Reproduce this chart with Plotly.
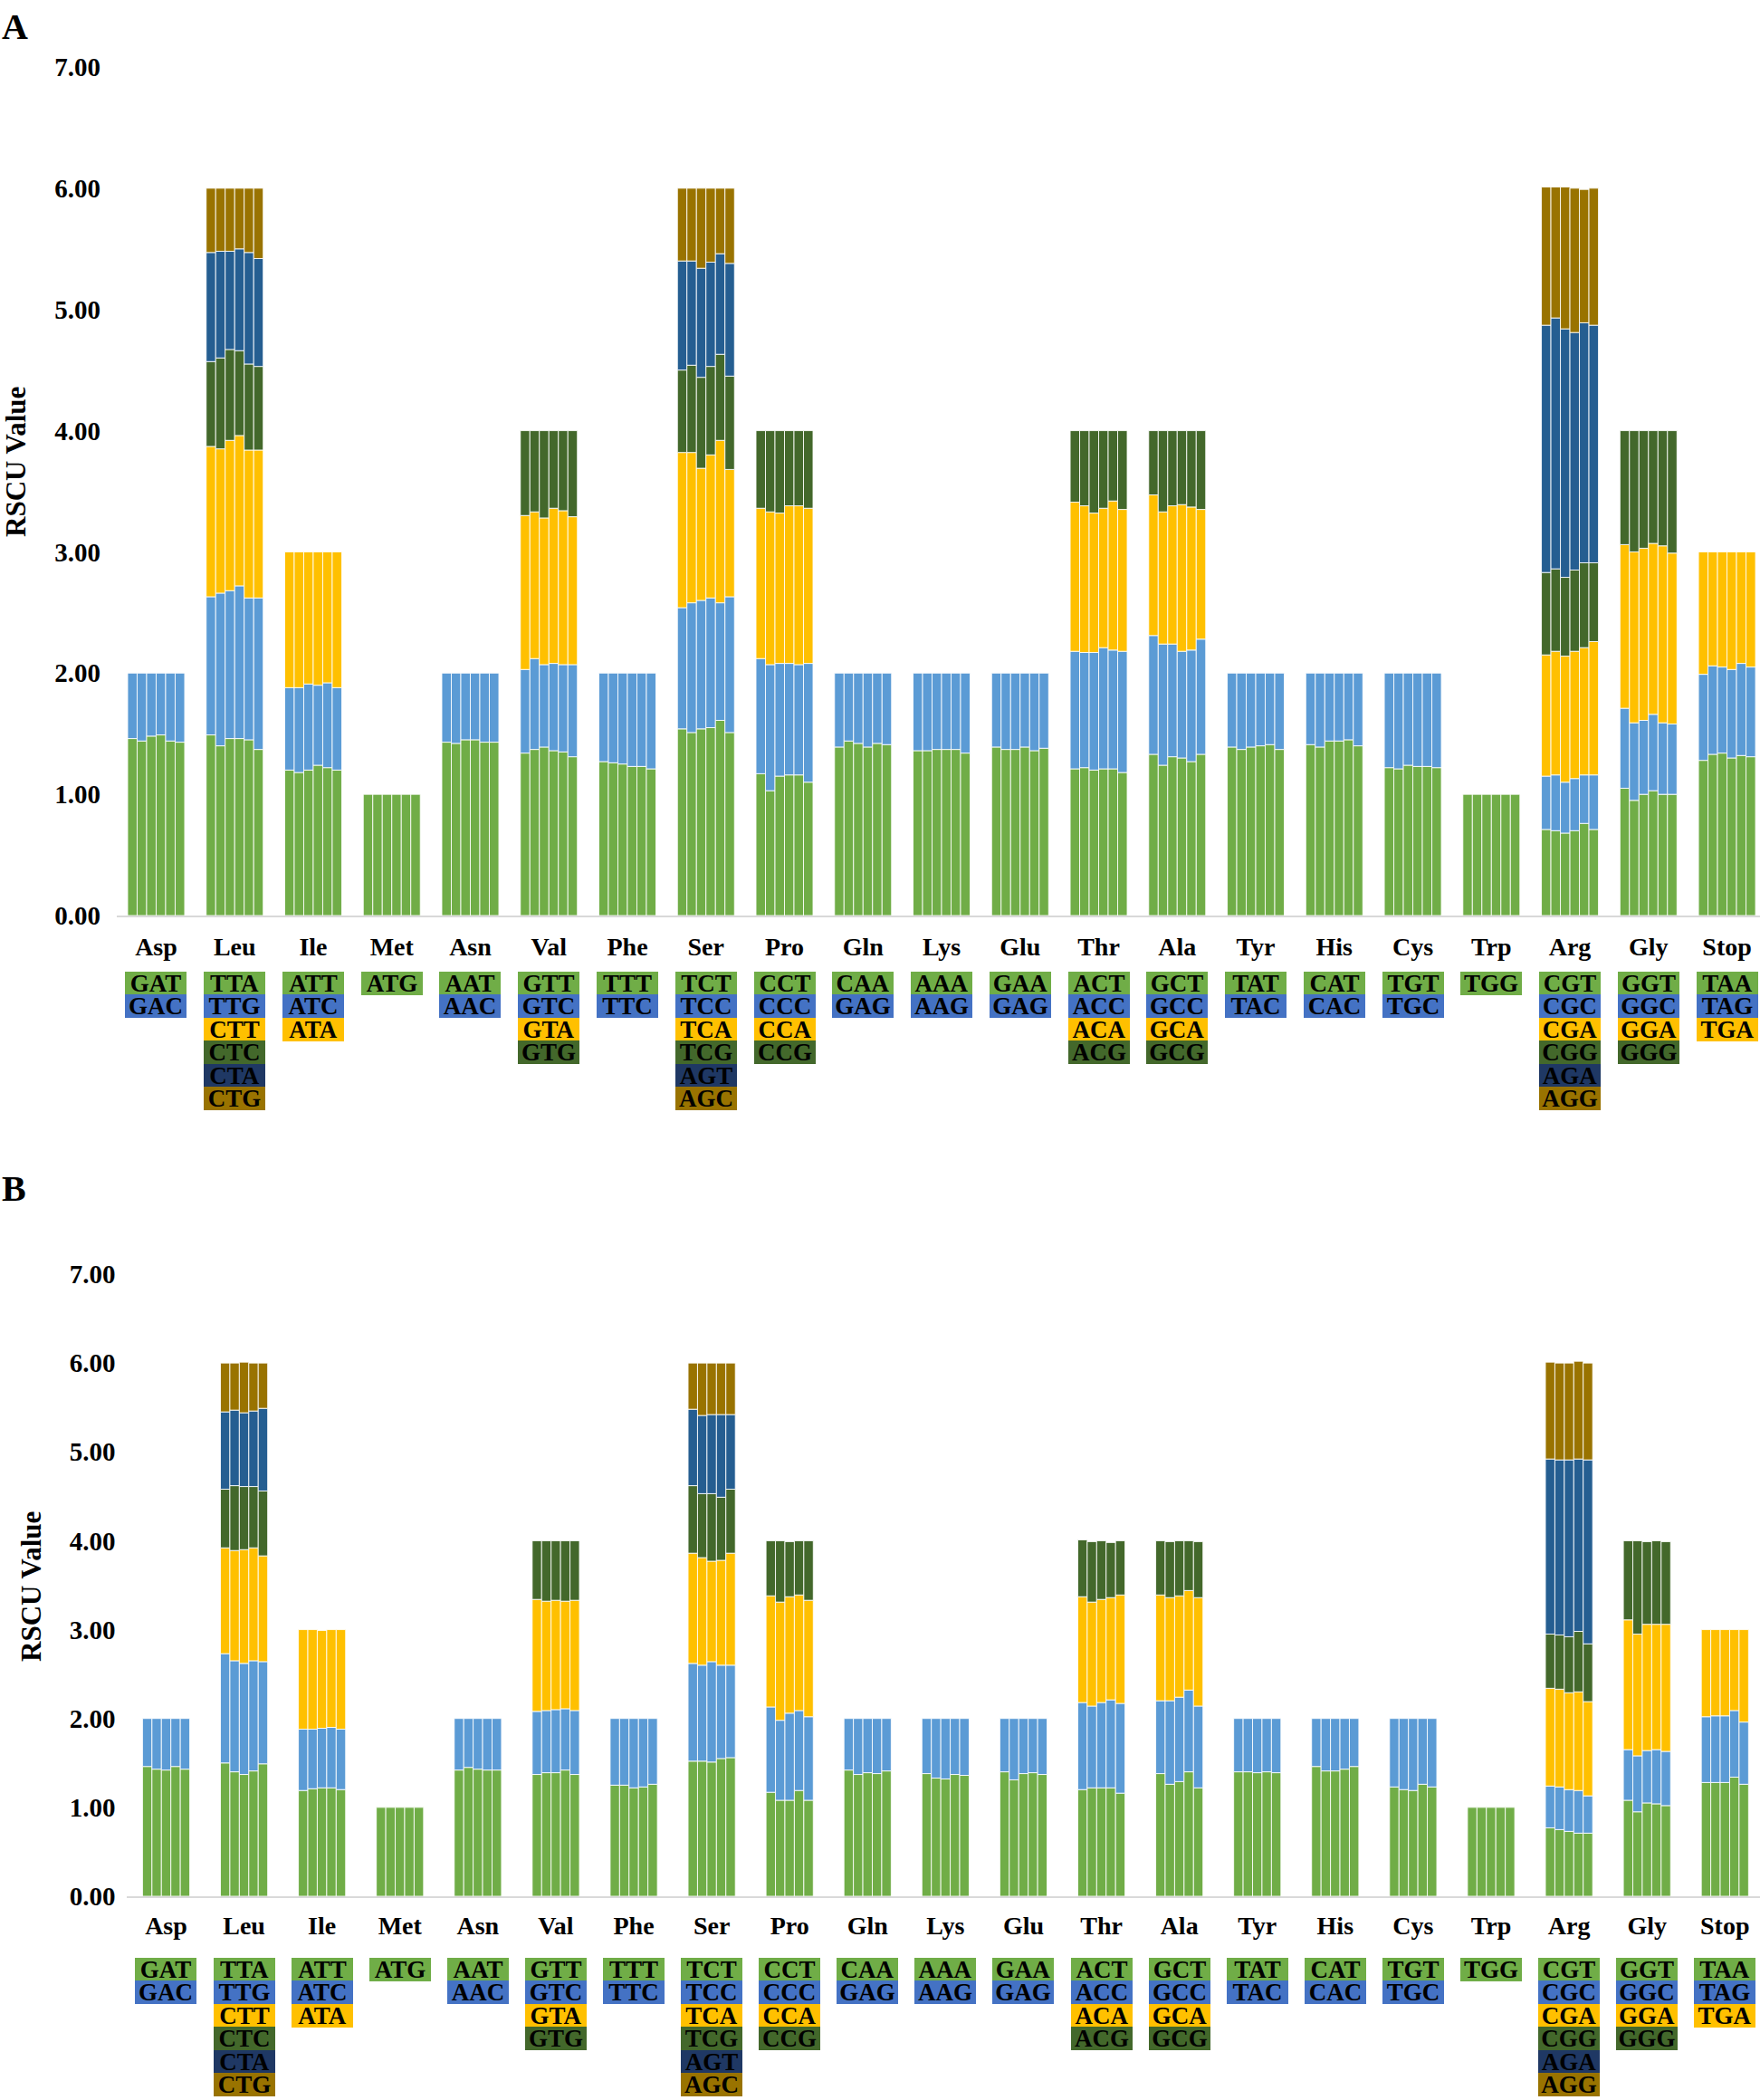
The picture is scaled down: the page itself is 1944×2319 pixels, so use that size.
import plotly.graph_objects as go

# ---------------- categories ----------------
amino_acids = ["Asp", "Leu", "Ile", "Met", "Asn", "Val", "Phe", "Ser", "Pro", "Gln", "Lys",
               "Glu", "Thr", "Ala", "Tyr", "His", "Cys", "Trp", "Arg", "Gly", "Stop"]

codons_Asp = ["GAT", "GAC"]
codons_Leu = ["TTA", "TTG", "CTT", "CTC", "CTA", "CTG"]
codons_Ile = ["ATT", "ATC", "ATA"]
codons_Met = ["ATG"]
codons_Asn = ["AAT", "AAC"]
codons_Val = ["GTT", "GTC", "GTA", "GTG"]
codons_Phe = ["TTT", "TTC"]
codons_Ser = ["TCT", "TCC", "TCA", "TCG", "AGT", "AGC"]
codons_Pro = ["CCT", "CCC", "CCA", "CCG"]
codons_Gln = ["CAA", "GAG"]
codons_Lys = ["AAA", "AAG"]
codons_Glu = ["GAA", "GAG"]
codons_Thr = ["ACT", "ACC", "ACA", "ACG"]
codons_Ala = ["GCT", "GCC", "GCA", "GCG"]
codons_Tyr = ["TAT", "TAC"]
codons_His = ["CAT", "CAC"]
codons_Cys = ["TGT", "TGC"]
codons_Trp = ["TGG"]
codons_Arg = ["CGT", "CGC", "CGA", "CGG", "AGA", "AGG"]
codons_Gly = ["GGT", "GGC", "GGA", "GGG"]
codons_Stop = ["TAA", "TAG", "TGA"]

y_ticks = [0, 1, 2, 3, 4, 5, 6, 7]

# ---------------- panel A: RSCU per codon (rows) x 6 samples ----------------
A_Asp = [[1.46, 1.44, 1.48, 1.49, 1.44, 1.43], [0.54, 0.56, 0.52, 0.51, 0.56, 0.57]]
A_Leu = [[1.49, 1.40, 1.46, 1.46, 1.45, 1.37], [1.14, 1.26, 1.22, 1.26, 1.17, 1.25],
         [1.24, 1.19, 1.24, 1.24, 1.22, 1.22], [0.70, 0.75, 0.75, 0.70, 0.71, 0.69],
         [0.90, 0.88, 0.81, 0.84, 0.92, 0.89], [0.53, 0.52, 0.52, 0.50, 0.53, 0.58]]
A_Ile = [[1.20, 1.18, 1.20, 1.24, 1.22, 1.20], [0.68, 0.70, 0.71, 0.66, 0.70, 0.68],
         [1.12, 1.12, 1.09, 1.10, 1.08, 1.12]]
A_Met = [[1.00, 1.00, 1.00, 1.00, 1.00, 1.00]]
A_Asn = [[1.43, 1.42, 1.45, 1.45, 1.43, 1.43], [0.57, 0.58, 0.55, 0.55, 0.57, 0.57]]
A_Val = [[1.34, 1.37, 1.39, 1.36, 1.35, 1.31], [0.69, 0.75, 0.68, 0.72, 0.72, 0.76],
         [1.27, 1.21, 1.21, 1.28, 1.27, 1.22], [0.70, 0.67, 0.72, 0.64, 0.66, 0.71]]
A_Phe = [[1.27, 1.26, 1.25, 1.23, 1.23, 1.21], [0.73, 0.74, 0.75, 0.77, 0.77, 0.79]]
A_Ser = [[1.54, 1.51, 1.54, 1.55, 1.61, 1.51], [1.00, 1.07, 1.06, 1.07, 0.97, 1.12],
         [1.28, 1.24, 1.09, 1.18, 1.34, 1.05], [0.68, 0.72, 0.75, 0.73, 0.71, 0.77],
         [0.90, 0.86, 0.90, 0.86, 0.83, 0.93], [0.60, 0.60, 0.66, 0.61, 0.54, 0.62]]
A_Pro = [[1.17, 1.03, 1.15, 1.16, 1.16, 1.10], [0.95, 1.04, 0.93, 0.92, 0.91, 0.98],
         [1.24, 1.26, 1.24, 1.30, 1.31, 1.28], [0.64, 0.67, 0.68, 0.62, 0.62, 0.64]]
A_Gln = [[1.39, 1.44, 1.42, 1.39, 1.42, 1.41], [0.61, 0.56, 0.58, 0.61, 0.58, 0.59]]
A_Lys = [[1.36, 1.36, 1.37, 1.37, 1.37, 1.34], [0.64, 0.64, 0.63, 0.63, 0.63, 0.66]]
A_Glu = [[1.39, 1.37, 1.37, 1.39, 1.36, 1.38], [0.61, 0.63, 0.63, 0.61, 0.64, 0.62]]
A_Thr = [[1.21, 1.22, 1.20, 1.21, 1.21, 1.18], [0.97, 0.95, 0.97, 1.00, 0.98, 1.00],
         [1.23, 1.21, 1.15, 1.15, 1.23, 1.17], [0.59, 0.62, 0.68, 0.64, 0.58, 0.65]]
A_Ala = [[1.33, 1.24, 1.31, 1.30, 1.27, 1.33], [0.98, 1.00, 0.93, 0.88, 0.92, 0.95],
         [1.16, 1.09, 1.14, 1.21, 1.18, 1.07], [0.53, 0.67, 0.62, 0.61, 0.63, 0.65]]
A_Tyr = [[1.39, 1.37, 1.39, 1.40, 1.41, 1.37], [0.61, 0.63, 0.61, 0.60, 0.59, 0.63]]
A_His = [[1.41, 1.39, 1.44, 1.44, 1.45, 1.40], [0.59, 0.61, 0.56, 0.56, 0.55, 0.60]]
A_Cys = [[1.22, 1.21, 1.24, 1.23, 1.23, 1.22], [0.78, 0.79, 0.76, 0.77, 0.77, 0.78]]
A_Trp = [[1.00, 1.00, 1.00, 1.00, 1.00, 1.00]]
A_Arg = [[0.71, 0.70, 0.68, 0.70, 0.76, 0.71], [0.44, 0.46, 0.42, 0.43, 0.40, 0.45],
         [1.00, 1.02, 1.04, 1.05, 1.05, 1.10], [0.68, 0.68, 0.65, 0.67, 0.70, 0.65],
         [2.04, 2.07, 2.05, 1.96, 1.98, 1.96], [1.14, 1.08, 1.17, 1.19, 1.10, 1.13]]
A_Gly = [[1.05, 0.95, 1.00, 1.03, 1.00, 1.00], [0.66, 0.64, 0.61, 0.63, 0.59, 0.58],
         [1.35, 1.41, 1.42, 1.41, 1.46, 1.41], [0.94, 1.00, 0.97, 0.93, 0.95, 1.01]]
A_Stop = [[1.28, 1.33, 1.34, 1.30, 1.32, 1.31], [0.71, 0.73, 0.71, 0.73, 0.76, 0.74],
          [1.01, 0.94, 0.95, 0.97, 0.92, 0.95]]

# ---------------- panel B: RSCU per codon (rows) x 5 samples ----------------
B_Asp = [[1.46, 1.43, 1.42, 1.46, 1.43], [0.54, 0.57, 0.58, 0.54, 0.57]]
B_Leu = [[1.50, 1.40, 1.37, 1.41, 1.49], [1.23, 1.25, 1.25, 1.24, 1.15],
         [1.19, 1.24, 1.28, 1.27, 1.19], [0.66, 0.73, 0.71, 0.69, 0.73],
         [0.87, 0.85, 0.83, 0.85, 0.93], [0.55, 0.53, 0.57, 0.54, 0.51]]
B_Ile = [[1.19, 1.21, 1.22, 1.22, 1.20], [0.69, 0.67, 0.67, 0.68, 0.68],
         [1.12, 1.12, 1.10, 1.10, 1.12]]
B_Met = [[1.00, 1.00, 1.00, 1.00, 1.00]]
B_Asn = [[1.42, 1.45, 1.43, 1.42, 1.42], [0.58, 0.55, 0.57, 0.58, 0.58]]
B_Val = [[1.37, 1.39, 1.39, 1.42, 1.37], [0.71, 0.70, 0.71, 0.69, 0.72],
         [1.26, 1.23, 1.23, 1.21, 1.24], [0.66, 0.68, 0.67, 0.68, 0.67]]
B_Phe = [[1.25, 1.25, 1.22, 1.23, 1.26], [0.75, 0.75, 0.78, 0.77, 0.74]]
B_Ser = [[1.52, 1.52, 1.51, 1.55, 1.56], [1.10, 1.08, 1.13, 1.05, 1.04],
         [1.24, 1.21, 1.13, 1.18, 1.26], [0.76, 0.72, 0.76, 0.71, 0.72],
         [0.86, 0.88, 0.89, 0.93, 0.84], [0.52, 0.59, 0.58, 0.58, 0.58]]
B_Pro = [[1.17, 1.08, 1.08, 1.19, 1.08], [0.96, 0.90, 0.98, 0.90, 0.94],
         [1.25, 1.33, 1.31, 1.30, 1.31], [0.62, 0.69, 0.62, 0.61, 0.67]]
B_Gln = [[1.42, 1.37, 1.39, 1.38, 1.41], [0.58, 0.63, 0.61, 0.62, 0.59]]
B_Lys = [[1.38, 1.33, 1.32, 1.37, 1.36], [0.62, 0.67, 0.68, 0.63, 0.64]]
B_Glu = [[1.40, 1.31, 1.38, 1.39, 1.37], [0.60, 0.69, 0.62, 0.61, 0.63]]
B_Thr = [[1.20, 1.22, 1.22, 1.22, 1.16], [0.98, 0.92, 0.96, 0.99, 1.01],
         [1.19, 1.17, 1.16, 1.15, 1.22], [0.64, 0.68, 0.66, 0.62, 0.61]]
B_Ala = [[1.38, 1.26, 1.29, 1.40, 1.22], [0.82, 0.94, 0.95, 0.92, 0.92],
         [1.19, 1.16, 1.14, 1.12, 1.22], [0.61, 0.63, 0.62, 0.56, 0.63]]
B_Tyr = [[1.40, 1.40, 1.39, 1.40, 1.39], [0.60, 0.60, 0.61, 0.60, 0.61]]
B_His = [[1.46, 1.41, 1.41, 1.43, 1.46], [0.54, 0.59, 0.59, 0.57, 0.54]]
B_Cys = [[1.23, 1.20, 1.19, 1.26, 1.23], [0.77, 0.80, 0.81, 0.74, 0.77]]
B_Trp = [[1.00, 1.00, 1.00, 1.00, 1.00]]
B_Arg = [[0.77, 0.75, 0.73, 0.71, 0.71], [0.47, 0.48, 0.47, 0.48, 0.42],
         [1.10, 1.10, 1.09, 1.11, 1.06], [0.61, 0.61, 0.63, 0.68, 0.65],
         [1.97, 1.97, 1.99, 1.94, 2.07], [1.09, 1.09, 1.09, 1.10, 1.09]]
B_Gly = [[1.08, 0.95, 1.05, 1.04, 1.02], [0.57, 0.63, 0.59, 0.61, 0.61],
         [1.46, 1.37, 1.42, 1.41, 1.43], [0.89, 1.05, 0.93, 0.94, 0.93]]
B_Stop = [[1.28, 1.28, 1.28, 1.34, 1.26], [0.74, 0.75, 0.75, 0.75, 0.70],
          [0.98, 0.97, 0.97, 0.91, 1.04]]

# ---------------- assembled tables ----------------
codon_lists = [codons_Asp, codons_Leu, codons_Ile, codons_Met, codons_Asn, codons_Val,
               codons_Phe, codons_Ser, codons_Pro, codons_Gln, codons_Lys, codons_Glu,
               codons_Thr, codons_Ala, codons_Tyr, codons_His, codons_Cys, codons_Trp,
               codons_Arg, codons_Gly, codons_Stop]
panel_A = [A_Asp, A_Leu, A_Ile, A_Met, A_Asn, A_Val, A_Phe, A_Ser, A_Pro, A_Gln, A_Lys,
           A_Glu, A_Thr, A_Ala, A_Tyr, A_His, A_Cys, A_Trp, A_Arg, A_Gly, A_Stop]
panel_B = [B_Asp, B_Leu, B_Ile, B_Met, B_Asn, B_Val, B_Phe, B_Ser, B_Pro, B_Gln, B_Lys,
           B_Glu, B_Thr, B_Ala, B_Tyr, B_His, B_Cys, B_Trp, B_Arg, B_Gly, B_Stop]

# ---------------- styles ----------------
bar_colors = ["#70AD47", "#5B9BD5", "#FFC000", "#43682B", "#255E91", "#997300"]
box_colors = ["#70AD47", "#4472C4", "#FFC000", "#43682B", "#1F3864", "#997300"]
FONT = "Liberation Serif, Times New Roman, serif"
W, H = 1944, 2319
ROW = 25.5


def py(px):
    return 1 - px / H


panels = [
    dict(data=panel_A, x="x", y="y", xa="xaxis", ya="yaxis", gw=0.726,
         xdom=(129.1 / W, 1.0), xr=(-0.5, 20.42), ydom=(py(1011), py(74)),
         box_top=1073, letter="A", letter_y=py(5), title_x=17, title_y=510,
         ystand=17, xstand=8),
    dict(data=panel_B, x="x2", y="y2", xa="xaxis2", ya="yaxis2", gw=0.606,
         xdom=(140.45 / W, 1.0), xr=(-0.5, 20.45), ydom=(py(2094), py(1407)),
         box_top=2162, letter="B", letter_y=py(1288), title_x=34, title_y=1752,
         ystand=12, xstand=6),
]

fig = go.Figure()
annotations = []

for P in panels:
    data = P["data"]
    ns = len(data[0][0])
    bw = P["gw"] / ns
    for s in range(ns):
        for k in range(6):
            xs, ys, bases = [], [], []
            for i, aa in enumerate(amino_acids):
                rows = data[i]
                if k < len(rows):
                    xs.append(aa)
                    ys.append(rows[k][s])
                    bases.append(sum(rows[j][s] for j in range(k)))
            fig.add_trace(go.Bar(
                x=xs, y=ys, base=bases, width=bw, offset=-P["gw"] / 2 + s * bw,
                marker=dict(color=bar_colors[k], line=dict(color="rgba(255,255,255,0.85)", width=1)),
                xaxis=P["x"], yaxis=P["y"], showlegend=False, hoverinfo="skip"))

    # codon table boxes
    for i, aa in enumerate(amino_acids):
        for r, cod in enumerate(codon_lists[i]):
            annotations.append(dict(
                x=aa, xref=P["x"], y=py(P["box_top"] + ROW / 2 + ROW * r), yref="paper",
                xanchor="center", yanchor="middle", text=cod, showarrow=False,
                width=68, height=ROW, bgcolor=box_colors[r], borderpad=0, borderwidth=0,
                font=dict(family=FONT, size=27, color="black", weight="bold")))

    # panel letter
    annotations.append(dict(x=0.0, xref="paper", y=P["letter_y"], yref="paper",
                            xanchor="left", yanchor="top", text=P["letter"], showarrow=False,
                            font=dict(family=FONT, size=40, color="black", weight="bold")))
    # y title
    annotations.append(dict(x=P["title_x"] / W, xref="paper", y=py(P["title_y"]), yref="paper",
                            xanchor="center", yanchor="middle", text="RSCU Value", textangle=-90,
                            showarrow=False,
                            font=dict(family=FONT, size=31, color="black", weight="bold")))

    fig.update_layout(**{
        P["xa"]: dict(domain=list(P["xdom"]), range=list(P["xr"]), anchor=P["y"],
                      type="category", categoryorder="array", categoryarray=amino_acids,
                      showline=True, linecolor="#D9D9D9", linewidth=2, showgrid=False,
                      zeroline=False, ticks="", ticklabelstandoff=P["xstand"], automargin=False,
                      tickfont=dict(family=FONT, size=28, color="black", weight="bold")),
        P["ya"]: dict(domain=list(P["ydom"]), range=[0, 7], anchor=P["x"],
                      tickmode="array", tickvals=y_ticks, tickformat=".2f",
                      showline=False, showgrid=False, zeroline=False, ticks="",
                      ticklabelstandoff=P["ystand"], automargin=False,
                      tickfont=dict(family=FONT, size=29, color="black", weight="bold")),
    })

fig.update_layout(
    width=W, height=H, barmode="overlay",
    margin=dict(l=0, r=0, t=0, b=0, pad=0, autoexpand=False),
    paper_bgcolor="white", plot_bgcolor="white",
    showlegend=False, annotations=annotations,
)

fig.write_html(
    "out.html",
    config={"displayModeBar": False},
    post_script=("document.body.style.margin='0';document.body.style.padding='0';"
                 "document.documentElement.style.overflow='hidden';"),
)
